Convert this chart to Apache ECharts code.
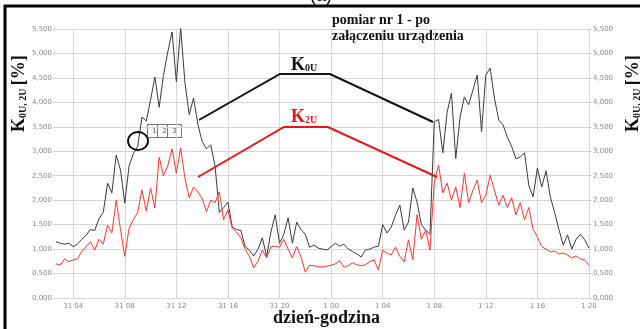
<!DOCTYPE html>
<html>
<head>
<meta charset="utf-8">
<script src="https://cdn.jsdelivr.net/npm/echarts@6/dist/echarts.min.js"></script>
<style>
  html, body { margin: 0; padding: 0; background: #fff; }
  #chart { width: 640px; height: 329px; }
</style>
</head>
<body>
<div id="chart"></div>
<script>
// time stamps every 20 min, 31 02:40 -> 1 20:00
const times = [];
for (let i = 0; i < 125; i++) {
    const mins = 160 + 20 * i;
    const day = mins >= 1440 ? 1 : 31;
    const h = Math.floor((mins % 1440) / 60);
    const m = mins % 60;
    times.push(day + " " + String(h).padStart(2, "0") + ":" + String(m).padStart(2, "0"));
}

// K0U [%]
const k0u = [
    1.15, 1.12, 1.10, 1.12, 1.05, 1.10, 1.20, 1.28, 1.40, 1.38,
    1.62, 1.75, 2.35, 2.15, 2.92, 2.62, 1.94, 2.70, 2.95, 3.10,
    3.70, 3.62, 4.05, 4.52, 3.90, 4.55, 5.03, 5.44, 4.42, 5.52,
    4.40, 3.75, 4.09, 3.55, 3.20, 3.05, 3.13, 2.70, 1.75, 1.85,
    1.96, 1.45, 1.40, 1.38, 1.05, 0.98, 0.86, 1.00, 1.23, 0.85,
    1.35, 1.70, 1.12, 1.30, 1.64, 1.12, 1.55, 1.40, 1.30, 1.04,
    1.08, 1.02, 1.00, 0.98, 1.05, 1.12, 1.06, 1.10, 1.00, 0.95,
    0.90, 0.84, 0.98, 1.00, 1.04, 1.06, 1.50, 1.33, 1.45, 1.70,
    1.90, 1.39, 1.55, 2.25, 1.96, 1.50, 1.39, 1.30, 3.60, 3.65,
    2.97, 3.80, 4.19, 2.85, 3.70, 4.11, 3.95, 4.25, 4.56, 3.40,
    4.56, 4.70, 4.09, 3.64, 3.54, 3.29, 3.10, 2.85, 2.88, 2.97,
    2.30, 2.07, 2.66, 2.27, 2.60, 2.07, 1.75, 1.40, 1.08, 1.29,
    1.00, 1.20, 1.30, 1.19, 1.02
];

// K2U [%]
const k2u = [
    0.70, 0.67, 0.80, 0.74, 0.78, 0.80, 0.95, 1.05, 1.15, 0.98,
    1.20, 1.10, 1.49, 1.33, 2.00, 1.40, 0.85, 1.42, 1.60, 1.75,
    2.21, 1.78, 2.25, 1.84, 2.88, 2.50, 2.70, 3.05, 2.55, 3.07,
    2.45, 2.05, 2.27, 2.17, 2.04, 1.76, 2.00, 1.95, 2.17, 1.60,
    1.80, 1.43, 1.35, 1.23, 1.00, 0.85, 0.62, 0.75, 0.98, 0.82,
    1.05, 1.06, 1.04, 1.20, 1.00, 0.82, 1.05, 0.84, 0.53, 0.67,
    0.66, 0.64, 0.63, 0.65, 0.67, 0.70, 0.76, 0.63, 0.66, 0.72,
    0.68, 0.66, 0.68, 0.74, 0.78, 0.57, 0.98, 0.92, 0.88, 1.04,
    0.85, 0.74, 1.19, 0.78, 1.70, 1.20, 1.39, 0.98, 2.35, 2.72,
    2.15, 2.35, 2.00, 2.27, 1.85, 2.55, 1.95, 2.20, 2.41, 1.95,
    2.10, 2.51, 2.20, 1.90, 2.10, 1.85, 2.05, 1.70, 1.95, 1.60,
    1.85, 1.40, 1.25, 1.05, 1.00, 0.94, 0.96, 0.90, 0.92, 0.88,
    0.82, 0.86, 0.80, 0.78, 0.67
];

const serif = "'Liberation Serif', 'DejaVu Serif', serif";
const tickFont = { fontSize: 7, color: "#8a8a8a", fontFamily: "'DejaVu Sans', sans-serif" };
const fmtY = v => v.toFixed(3).replace(".", ",");
const onTick = i => (i - 4) % 12 === 0;
const fmtX = v => {
    const [d, hm] = v.split(" ");
    return d + " " + hm.slice(0, 2);
};

const yAxisBase = {
    type: "value",
    min: 0,
    max: 5.5,
    interval: 0.5,
    axisLine: { show: false },
    axisTick: { show: true, length: 3, lineStyle: { color: "#d0d0d0" } },
    axisLabel: Object.assign({ formatter: fmtY, margin: 4 }, tickFont),
    splitLine: { lineStyle: { color: "#d6d6d6", width: 1 } }
};

const yTitle = x => ({
    type: "text", x: x, y: 132, rotation: Math.PI / 2,
    style: { text: "{k|K}{s|0U, 2U} {k|[%]}",
             rich: { k: { font: "bold 18px " + serif, fill: "#111", verticalAlign: "bottom" },
                     s: { font: "bold 10px " + serif, fill: "#111", verticalAlign: "bottom" } } }
});

const chart = echarts.init(document.getElementById("chart"));
chart.setOption({
    animation: false,
    backgroundColor: "#fff",
    grid: { left: 56, right: 51, top: 29, bottom: 31 },
    xAxis: {
        type: "category",
        boundaryGap: false,
        data: times,
        axisLine: { show: false },
        axisTick: { show: false },
        axisLabel: Object.assign({ interval: onTick, formatter: fmtX, margin: 5 }, tickFont),
        splitLine: { show: true, interval: onTick, lineStyle: { color: "#d6d6d6", width: 1 } }
    },
    yAxis: [
        Object.assign({}, yAxisBase, { position: "left" }),
        Object.assign({}, yAxisBase, { position: "right", splitLine: { show: false } })
    ],
    series: [
        {
            name: "K0U",
            type: "line",
            data: k0u,
            symbol: "none",
            lineStyle: { color: "#3a3a3a", width: 1 },
            z: 3
        },
        {
            name: "K2U",
            type: "line",
            data: k2u,
            symbol: "none",
            lineStyle: { color: "#ff3333", width: 1 },
            z: 4
        }
    ],
    graphic: [
        // frame (left and top edges visible)
        { type: "rect", shape: { x: 5, y: 6, width: 660, height: 340 },
          style: { fill: null, stroke: "#000", lineWidth: 3 }, z: 10 },
        { type: "text", left: 310, top: -13,
          style: { text: "(a)", font: "18px 'Liberation Sans', sans-serif", fill: "#000" } },
        // title
        { type: "text", left: 332, top: 12,
          style: { text: "pomiar nr 1 - po\nzałączeniu urządzenia", font: "bold 14px " + serif,
                   fill: "#111", lineHeight: 16 } },
        // callout lines
        { type: "polyline", shape: { points: [[199, 120], [280, 74], [330, 74], [433, 122]] },
          style: { stroke: "#111", lineWidth: 2, fill: null }, z: 8 },
        { type: "polyline", shape: { points: [[198, 177], [284, 127], [328, 127], [437, 177]] },
          style: { stroke: "#e8141c", lineWidth: 2, fill: null }, z: 8 },
        { type: "text", left: 291, top: 56,
          style: { text: "{k|K}{s|0U}", fill: "#111",
                   rich: { k: { font: "bold 18px " + serif, fill: "#111", verticalAlign: "bottom" },
                           s: { font: "bold 10px " + serif, fill: "#111", verticalAlign: "bottom", padding: [0, 0, 1, 0] } } } },
        { type: "text", left: 291, top: 108,
          style: { text: "{k|K}{s|2U}",
                   rich: { k: { font: "bold 18px " + serif, fill: "#e8141c", verticalAlign: "bottom" },
                           s: { font: "bold 10px " + serif, fill: "#e8141c", verticalAlign: "bottom", padding: [0, 0, 1, 0] } } } },
        // marker circle and boxes
        { type: "ellipse", shape: { cx: 138, cy: 141, rx: 10, ry: 9 },
          style: { fill: null, stroke: "#000", lineWidth: 1.8 }, z: 9 },
        { type: "group", left: 147, top: 124, children: ["1", "2", "3"].map((d, i) => ({
            type: "text", x: i * 10, y: 0,
            style: { text: d, font: "7px sans-serif", fill: "#555", width: 9, height: 10,
                     align: "center", verticalAlign: "middle", padding: [1, 2],
                     backgroundColor: "#fff", borderColor: "#777", borderWidth: 1 }
          })) },
        // axis titles
        { type: "text", left: 273, top: 309,
          style: { text: "dzień-godzina", font: "bold 18px " + serif, fill: "#111" } },
        yTitle(10),
        yTitle(624)
    ]
});
</script>
</body>
</html>
